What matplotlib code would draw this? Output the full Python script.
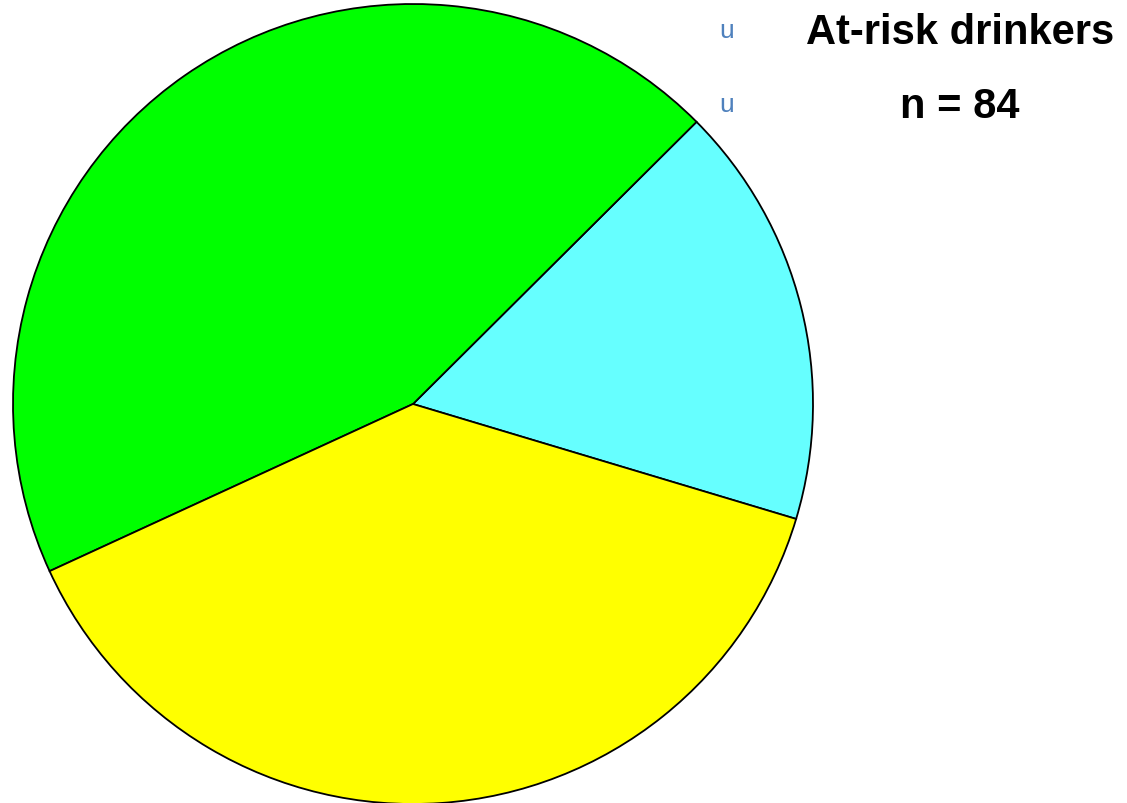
import matplotlib
matplotlib.use("Agg")
import matplotlib.pyplot as plt

# 飲酒者の内訳 (n = 84)
labels = ["group A", "group B", "group C"]
shares = [17.1, 44.4, 38.5]
colors = ["#66ffff", "#00ff00", "#ffff00"]
title_lines = ["At-risk drinkers", "n = 84"]

W, H = 1127, 804
fig = plt.figure(figsize=(W / 100, H / 100), dpi=100)
ax = fig.add_axes([0, 0, 1, 1])

ax.pie(shares, colors=colors, startangle=-16.7, counterclock=True,
       center=(413, H - 405), radius=400, frame=True,
       wedgeprops=dict(edgecolor="black", linewidth=1.3))
ax.set_xlim(0, W)
ax.set_ylim(0, H)
ax.set_aspect("equal")
ax.axis("off")

for i, line in enumerate(title_lines):
    y = H - 31 - i * 74
    ax.text(727, y, "u", color="#4f81bd", fontsize=19, ha="center", va="center",
            family="Liberation Sans")
    ax.text(960, y - 2, line, fontsize=30, fontweight="bold", ha="center", va="center",
            family="Liberation Sans")

fig.savefig("out.png", dpi=100)
